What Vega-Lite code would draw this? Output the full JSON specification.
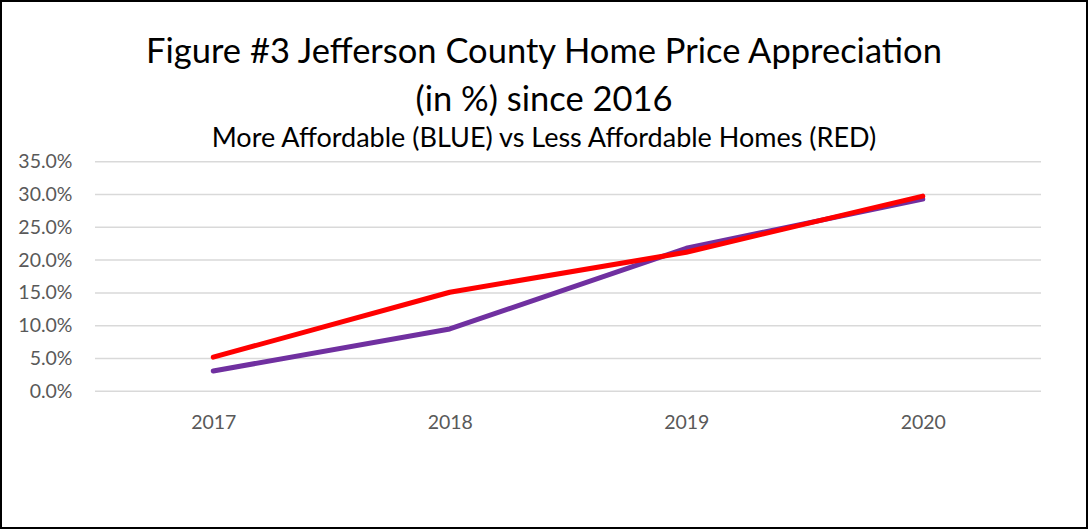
{
  "$schema": "https://vega.github.io/schema/vega-lite/v6.json",
  "width": 1086,
  "height": 527,
  "padding": 1,
  "autosize": {"type": "none"},
  "background": "white",
  "config": {
    "view": {"stroke": "#000000", "strokeWidth": 2},
    "font": "Lato"
  },
  "title": {
    "text": ["Figure #3  Jefferson County Home Price Appreciation", "(in %) since 2016"],
    "subtitle": "More Affordable (BLUE) vs Less Affordable Homes (RED)",
    "anchor": "middle",
    "orient": "top",
    "offset": -152,
    "font": "Lato",
    "fontSize": 34.5,
    "fontWeight": "normal",
    "color": "#000000",
    "lineHeight": 48,
    "subtitleFont": "Lato",
    "subtitleFontSize": 27,
    "subtitleColor": "#000000",
    "subtitlePadding": 8
  },
  "layer": [
    {
      "data": {"values": [{"g": 0}, {"g": 0.05}, {"g": 0.10}, {"g": 0.15}, {"g": 0.20}, {"g": 0.25}, {"g": 0.30}, {"g": 0.35}]},
      "mark": {"type": "rule", "color": "#D9D9D9", "strokeWidth": 1.5},
      "encoding": {
        "x": {"datum": 2016.5, "type": "quantitative", "scale": {"domain": [2016.1025, 2020.6945], "nice": false, "zero": false},
          "axis": {
            "orient": "bottom", "offset": -136.7, "values": [2017, 2018, 2019, 2020], "format": "d",
            "domain": false, "ticks": false, "tickSize": 0, "grid": false, "title": null,
            "labelFont": "Lato", "labelFontSize": 19.5, "labelColor": "#595959", "labelPadding": 22
          }},
        "x2": {"datum": 2020.5},
        "y": {"field": "g", "type": "quantitative", "scale": {"domain": [-0.2084, 0.595], "nice": false, "zero": false},
          "axis": {
            "orient": "left", "offset": -94, "values": [0, 0.05, 0.1, 0.15, 0.2, 0.25, 0.3, 0.35], "format": ".1%",
            "domain": false, "ticks": false, "tickSize": 0, "grid": false, "title": null,
            "labelFont": "Lato", "labelFontSize": 19.5, "labelColor": "#595959", "labelPadding": 23
          }}
      }
    },
    {
      "data": {"values": [
        {"year": 2017, "series": "More Affordable (BLUE)", "pct": 0.031},
        {"year": 2018, "series": "More Affordable (BLUE)", "pct": 0.095},
        {"year": 2019, "series": "More Affordable (BLUE)", "pct": 0.218},
        {"year": 2020, "series": "More Affordable (BLUE)", "pct": 0.293},
        {"year": 2017, "series": "Less Affordable (RED)", "pct": 0.052},
        {"year": 2018, "series": "Less Affordable (RED)", "pct": 0.151},
        {"year": 2019, "series": "Less Affordable (RED)", "pct": 0.212},
        {"year": 2020, "series": "Less Affordable (RED)", "pct": 0.2975}
      ]},
      "mark": {"type": "line", "strokeWidth": 5, "strokeCap": "round", "strokeJoin": "round"},
      "encoding": {
        "x": {
          "field": "year", "type": "quantitative",
          "axis": {
            "orient": "bottom", "offset": -136.7, "values": [2017, 2018, 2019, 2020], "format": "d",
            "domain": false, "ticks": false, "tickSize": 0, "grid": false, "title": null,
            "labelFont": "Lato", "labelFontSize": 19.5, "labelColor": "#595959", "labelPadding": 22
          }
        },
        "y": {
          "field": "pct", "type": "quantitative",
          "axis": {
            "orient": "left", "offset": -94, "values": [0, 0.05, 0.1, 0.15, 0.2, 0.25, 0.3, 0.35], "format": ".1%",
            "domain": false, "ticks": false, "tickSize": 0, "grid": false, "title": null,
            "labelFont": "Lato", "labelFontSize": 19.5, "labelColor": "#595959", "labelPadding": 23
          }
        },
        "color": {
          "field": "series", "type": "nominal",
          "scale": {"domain": ["More Affordable (BLUE)", "Less Affordable (RED)"], "range": ["#7030A0", "#FF0000"]},
          "legend": null
        }
      }
    }
  ]
}
